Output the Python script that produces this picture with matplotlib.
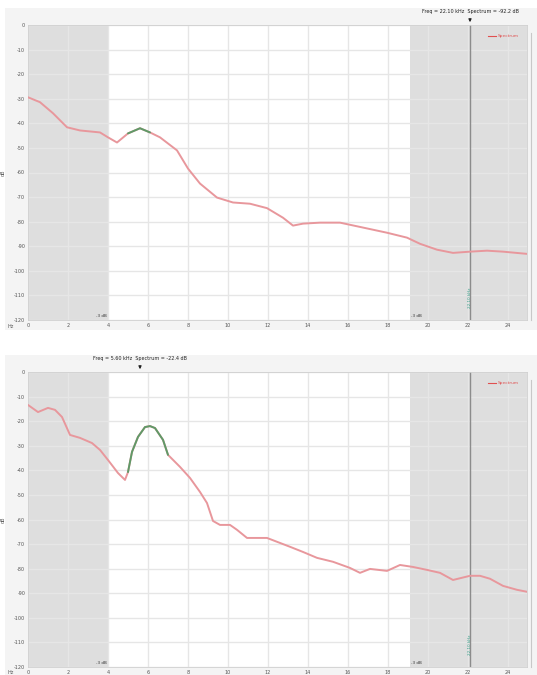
import matplotlib
matplotlib.use("Agg")
import matplotlib.pyplot as plt
from matplotlib.patches import Rectangle

# ---------------- data ----------------
freq_ticks = [0, 2, 4, 6, 8, 10, 12, 14, 16, 18, 20, 22, 24]
db_ticks = [0, -10, -20, -30, -40, -50, -60, -70, -80, -90, -100, -110, -120]

top_freq = [0, 0.6, 1.25, 1.95, 2.6, 3.6, 4.0, 4.45, 5.0, 5.6, 6.1, 6.6, 7.45, 8.0,
            8.6, 9.45, 10.25, 11.1, 11.95, 12.75, 13.25, 13.75, 14.6, 15.6, 16.75,
            17.95, 18.95, 19.6, 20.45, 21.25, 22.1, 22.95, 23.75, 24.95]
top_db = [-29.4, -31.4, -35.9, -41.6, -42.9, -43.7, -45.7, -47.8, -44.1, -42.0, -43.7,
          -45.7, -51.0, -58.4, -64.5, -70.2, -72.2, -72.7, -74.5, -78.4, -81.6, -80.8,
          -80.4, -80.4, -82.4, -84.5, -86.5, -89.0, -91.4, -92.7, -92.2, -91.8, -92.2, -93.1]
top_peak_range = (5.0, 6.1)

bot_freq = [0, 0.5, 1.0, 1.35, 1.7, 2.1, 2.6, 3.2, 3.6, 4.0, 4.5, 4.85, 5.0, 5.2, 5.5,
            5.85, 6.1, 6.35, 6.75, 7.0, 7.6, 8.1, 8.6, 8.95, 9.25, 9.6, 10.1, 10.45,
            10.95, 11.95, 13.1, 13.75, 14.45, 15.25, 16.1, 16.6, 17.1, 17.95, 18.6,
            19.25, 19.95, 20.6, 21.25, 22.1, 22.6, 23.1, 23.75, 24.45, 24.95]
bot_db = [-13.4, -16.3, -14.6, -15.4, -18.3, -25.6, -26.8, -28.9, -31.7, -35.8, -41.1,
          -43.9, -40.7, -32.5, -26.4, -22.4, -22.0, -22.8, -27.6, -33.7, -38.6, -43.1,
          -48.8, -53.3, -60.6, -62.2, -62.2, -64.2, -67.5, -67.5, -71.1, -73.2, -75.6,
          -77.2, -79.7, -81.7, -80.1, -80.9, -78.5, -79.3, -80.5, -81.7, -84.6, -82.9,
          -82.9, -84.1, -87.0, -88.6, -89.4]
bot_peak_range = (5.0, 7.0)

band_low = 4.0
band_high = 19.1
marker_line = 22.1
cursor_top = 22.1
cursor_bot = 5.6
top_readout = "Freq = 22.10 kHz  Spectrum = -92.2 dB"
bot_readout = "Freq = 5.60 kHz  Spectrum = -22.4 dB"

# ---------------- styling ----------------
W, H = 537, 675
LINE = "#e8979c"
GREEN = "#5f9a68"
SHADE = "#dedede"
PANEL = "#f4f4f4"
GRID = "#e6e6e6"
TXT = "#555555"

fig = plt.figure(figsize=(W / 100, H / 100), dpi=100)
fig.patch.set_facecolor("white")

# panel backgrounds
fig.patches.append(Rectangle((5 / W, 1 - 330 / H), 532 / W, 322 / H,
                             transform=fig.transFigure, facecolor=PANEL,
                             edgecolor="none", zorder=-10))
fig.patches.append(Rectangle((5 / W, 0), 532 / W, 1 - 355 / H,
                             transform=fig.transFigure, facecolor=PANEL,
                             edgecolor="none", zorder=-10))


def make_panel(top_px, bot_px, freq, db, peak_range, cursor, readout):
    ax = fig.add_axes([28 / W, 1 - bot_px / H, 499 / W, (bot_px - top_px) / H])
    ax.set_facecolor("white")
    ax.set_xlim(0, 24.95)
    ax.set_ylim(-120, 0)
    ax.axvspan(0, band_low, color=SHADE, zorder=0, lw=0)
    ax.axvspan(band_high, 24.95, color=SHADE, zorder=0, lw=0)
    ax.set_xticks(freq_ticks)
    ax.set_yticks(db_ticks)
    ax.set_xticklabels([str(v) for v in freq_ticks])
    ax.set_yticklabels([str(v) for v in db_ticks])
    ax.tick_params(length=0, labelsize=3.5, colors=TXT, pad=2)
    ax.grid(True, color=GRID, lw=1.0, zorder=1)
    ax.set_axisbelow(True)
    for s in ax.spines.values():
        s.set_color("#d0d0d0")
        s.set_linewidth(0.6)
    ax.plot(freq, db, color=LINE, lw=1.4, zorder=3, solid_capstyle="round",
            solid_joinstyle="round")
    pf = [f for f in freq if peak_range[0] <= f <= peak_range[1]]
    pd_ = [d for f, d in zip(freq, db) if peak_range[0] <= f <= peak_range[1]]
    ax.plot(pf, pd_, color=GREEN, lw=1.4, zorder=4, solid_capstyle="round",
            solid_joinstyle="round")
    ax.axvline(marker_line, color="#8c8c8c", lw=1.0, zorder=2)
    # legend
    ax.plot([23.0, 23.4], [-4.5, -4.5], color="#e05050", lw=0.8, zorder=5)
    ax.text(23.5, -4.5, "Spectrum", color="#e05050", fontsize=3.2,
            va="center", ha="left", zorder=5)
    # band edge labels
    ax.text(band_low - 0.05, -119, "-3 dB", fontsize=3, color="#333333",
            ha="right", va="bottom")
    ax.text(band_high + 0.05, -119, "-3 dB", fontsize=3, color="#333333",
            ha="left", va="bottom")
    # green rotated readout near bottom at cursor line
    ax.text(marker_line, -111, "22.10 kHz", rotation=90, fontsize=3, color="#3aa08a",
            ha="center", va="center")
    # top readout
    ax.annotate(readout, xy=(cursor, 0), xytext=(cursor, 4.5),
                textcoords="data", annotation_clip=False,
                fontsize=3.5, color="#222222", ha="center", va="bottom",
                arrowprops=dict(arrowstyle="-|>", color="#222222", lw=0.8,
                                mutation_scale=4))
    ax.set_ylabel("dB", fontsize=3.5, color=TXT, labelpad=6)
    fig.text(8 / W, 1 - (bot_px + 6) / H, "Hz", fontsize=3.5, color=TXT,
             ha="left", va="center")
    # scrollbar-like thin line on the right
    fig.add_artist(plt.Line2D([531 / W, 531 / W], [1 - bot_px / H, 1 - (top_px + 8) / H],
                              transform=fig.transFigure, color="#c8c8c8", lw=0.8))
    return ax


make_panel(25, 320, top_freq, top_db, top_peak_range, cursor_top, top_readout)
make_panel(372, 667, bot_freq, bot_db, bot_peak_range, cursor_bot, bot_readout)

fig.savefig("out.png", dpi=100, facecolor="white")
